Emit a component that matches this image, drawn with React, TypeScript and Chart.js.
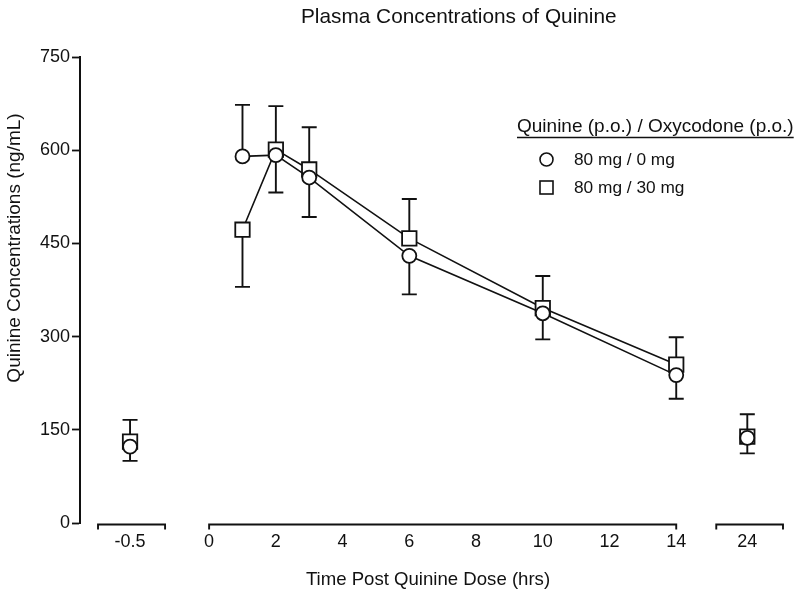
import React, { useEffect, useRef } from "react";
import { Chart, registerables } from "chart.js";

Chart.register(...registerables);

// ---- Data ----
const sampleTimes = [-0.5, 1, 2, 3, 6, 10, 14, 24];
const quinineOnly = [123, 590, 592, 556, 430, 337.5, 238, 137];
const quinineOnlyErrUp = [0, 83, 0, 0, 0, 0, 0, 0];
const quinineOnlyErrDown = [23, 0, 60, 63.5, 62, 42, 38, 25];
const withOxycodone = [131, 472, 601, 569, 458, 346, 255, 139];
const withOxycodoneErrUp = [35, 0, 70, 68, 63.5, 51.5, 44, 36];
const withOxycodoneErrDown = [0, 92, 0, 0, 0, 0, 0, 0];

const xTickValues = [-0.5, 0, 2, 4, 6, 8, 10, 12, 14, 24];
const xTickLabels = ["-0.5", "0", "2", "4", "6", "8", "10", "12", "14", "24"];
const yTickValues = [0, 150, 300, 450, 600, 750];

const seriesNames = ["80 mg / 0 mg", "80 mg / 30 mg"];
const legendTitle = "Quinine (p.o.) / Oxycodone (p.o.)";
const chartTitle = "Plasma Concentrations of Quinine";
const xTitle = "Time Post Quinine Dose (hrs)";
const yTitle = "Quinine Concentrations (ng/mL)";

// ---- Broken axis layout (axis units) ----
const MAIN_MIN = 0;
const MAIN_MAX = 14;
const PRE_POS = -2.37;
const LATE_POS = 16.13;
const AXIS_MIN = -3.87;
const AXIS_MAX = 17.2;
const axisSegments = [
  [-3.33, -1.32],
  [0, 14],
  [15.2, 17.2],
];

function axisPos(t: number): number {
  if (t < MAIN_MIN) return PRE_POS;
  if (t > MAIN_MAX) return LATE_POS;
  return t;
}

const FONT = "'Liberation Sans', Arial, Helvetica, sans-serif";
const INK = "#111";

const errorBars: Record<number, { up: number[]; down: number[] }> = {
  0: { up: quinineOnlyErrUp, down: quinineOnlyErrDown },
  1: { up: withOxycodoneErrUp, down: withOxycodoneErrDown },
};

const errorBarPlugin = {
  id: "errorBars",
  beforeDatasetsDraw(chart: any) {
    const ctx = chart.ctx;
    const yScale = chart.scales.y;
    ctx.save();
    ctx.strokeStyle = INK;
    ctx.lineWidth = 1.9;
    chart.data.datasets.forEach((ds: any, di: number) => {
      const eb = errorBars[di];
      if (!eb) return;
      const meta = chart.getDatasetMeta(di);
      meta.data.forEach((pt: any, i: number) => {
        const v = ds.data[i].y;
        const x = pt.x;
        const y = pt.y;
        const segs: number[] = [];
        if (eb.up[i]) segs.push(yScale.getPixelForValue(v + eb.up[i]));
        if (eb.down[i]) segs.push(yScale.getPixelForValue(v - eb.down[i]));
        segs.forEach((ey) => {
          ctx.beginPath();
          ctx.moveTo(x, y);
          ctx.lineTo(x, ey);
          ctx.moveTo(x - 7.5, ey);
          ctx.lineTo(x + 7.5, ey);
          ctx.stroke();
        });
      });
    });
    ctx.restore();
  },
};

const decorPlugin = {
  id: "decor",
  afterDraw(chart: any) {
    const ctx = chart.ctx;
    const xScale = chart.scales.x;
    const area = chart.chartArea;
    ctx.save();
    // broken x axis segments
    ctx.strokeStyle = INK;
    ctx.lineWidth = 1.9;
    const ly = area.bottom + 1.5;
    axisSegments.forEach(([a, b]) => {
      const xa = xScale.getPixelForValue(a);
      const xb = xScale.getPixelForValue(b);
      ctx.beginPath();
      ctx.moveTo(xa, ly + 5);
      ctx.lineTo(xa, ly);
      ctx.lineTo(xb, ly);
      ctx.lineTo(xb, ly + 5);
      ctx.stroke();
    });

    ctx.fillStyle = INK;
    // chart title
    ctx.font = `20.8px ${FONT}`;
    ctx.textAlign = "left";
    ctx.textBaseline = "alphabetic";
    ctx.fillText(chartTitle, 301, 23);

    // x title
    ctx.font = `18.6px ${FONT}`;
    ctx.textAlign = "center";
    ctx.textBaseline = "middle";
    ctx.fillText(xTitle, 428, 580);

    // y title
    ctx.font = `19px ${FONT}`;
    ctx.save();
    ctx.translate(15, 248);
    ctx.rotate(-Math.PI / 2);
    ctx.fillText(yTitle, 0, 0);
    ctx.restore();

    // legend
    ctx.textAlign = "left";
    ctx.textBaseline = "alphabetic";
    ctx.font = `19px ${FONT}`;
    ctx.fillText(legendTitle, 517, 132);
    const tw = ctx.measureText(legendTitle).width;
    ctx.lineWidth = 1.5;
    ctx.beginPath();
    ctx.moveTo(517, 137.5);
    ctx.lineTo(517 + tw, 137.5);
    ctx.stroke();

    ctx.lineWidth = 1.6;
    ctx.fillStyle = "#fff";
    ctx.beginPath();
    ctx.arc(546.5, 159.5, 6.5, 0, Math.PI * 2);
    ctx.fill();
    ctx.stroke();
    ctx.fillRect(540, 181, 13, 13);
    ctx.strokeRect(540, 181, 13, 13);

    ctx.fillStyle = INK;
    ctx.font = `17.3px ${FONT}`;
    ctx.fillText(seriesNames[0], 574, 165);
    ctx.fillText(seriesNames[1], 574, 193);
    ctx.restore();
  },
};

function hideBreakSegments(ctx: any) {
  const x0 = ctx.p0.parsed.x;
  const x1 = ctx.p1.parsed.x;
  const inMain = (v: number) => v >= MAIN_MIN && v <= MAIN_MAX;
  return inMain(x0) && inMain(x1) ? INK : "rgba(0,0,0,0)";
}

export default function App() {
  const ref = useRef<HTMLCanvasElement | null>(null);

  useEffect(() => {
    if (!ref.current) return;
    const mk = (vals: number[]) =>
      sampleTimes.map((t, i) => ({ x: axisPos(t), y: vals[i] }));

    const chart = new Chart(ref.current, {
      type: "line",
      data: {
        datasets: [
          {
            label: seriesNames[0],
            data: mk(quinineOnly),
            order: 0,
            borderColor: INK,
            borderWidth: 1.6,
            backgroundColor: "#fff",
            pointStyle: "circle",
            pointRadius: 7,
            pointBorderWidth: 1.8,
            pointBorderColor: INK,
            pointBackgroundColor: "#fff",
            tension: 0,
            segment: { borderColor: hideBreakSegments },
          },
          {
            label: seriesNames[1],
            data: mk(withOxycodone),
            order: 1,
            borderColor: INK,
            borderWidth: 1.6,
            backgroundColor: "#fff",
            pointStyle: "rect",
            pointRadius: 10.2,
            pointBorderWidth: 1.8,
            pointBorderColor: INK,
            pointBackgroundColor: "#fff",
            tension: 0,
            segment: { borderColor: hideBreakSegments },
          },
        ],
      },
      options: {
        animation: false,
        responsive: false,
        events: [],
        layout: { padding: { top: 57, right: 15, left: 0, bottom: 0 } },
        plugins: {
          legend: { display: false },
          title: { display: false },
          tooltip: { enabled: false },
        },
        scales: {
          x: {
            type: "linear",
            min: AXIS_MIN,
            max: AXIS_MAX,
            grid: { display: false, drawTicks: false },
            border: { display: false },
            afterBuildTicks: (scale: any) => {
              scale.ticks = xTickValues.map((v) => ({ value: axisPos(v) }));
            },
            afterFit: (scale: any) => {
              scale.height = 77;
            },
            ticks: {
              autoSkip: false,
              maxRotation: 0,
              padding: 8,
              color: INK,
              font: { family: FONT, size: 18 },
              callback: (_v: any, i: number) => xTickLabels[i],
            },
          },
          y: {
            type: "linear",
            min: 0,
            max: 750,
            afterBuildTicks: (scale: any) => {
              scale.ticks = yTickValues.map((v) => ({ value: v }));
            },
            afterFit: (scale: any) => {
              scale.width = 80;
            },
            grid: {
              display: true,
              drawOnChartArea: false,
              drawTicks: true,
              tickLength: 8,
              tickWidth: 1.8,
              tickColor: INK,
            },
            border: { display: true, color: INK, width: 2 },
            ticks: {
              padding: 2,
              color: INK,
              font: { family: FONT, size: 18 },
            },
          },
        },
      },
      plugins: [errorBarPlugin, decorPlugin],
    });
    return () => chart.destroy();
  }, []);

  return (
    <div style={{ position: "fixed", left: 0, top: 0, width: 798, height: 600, background: "#fff" }}>
      <canvas ref={ref} width={798} height={600} style={{ display: "block" }} />
    </div>
  );
}
